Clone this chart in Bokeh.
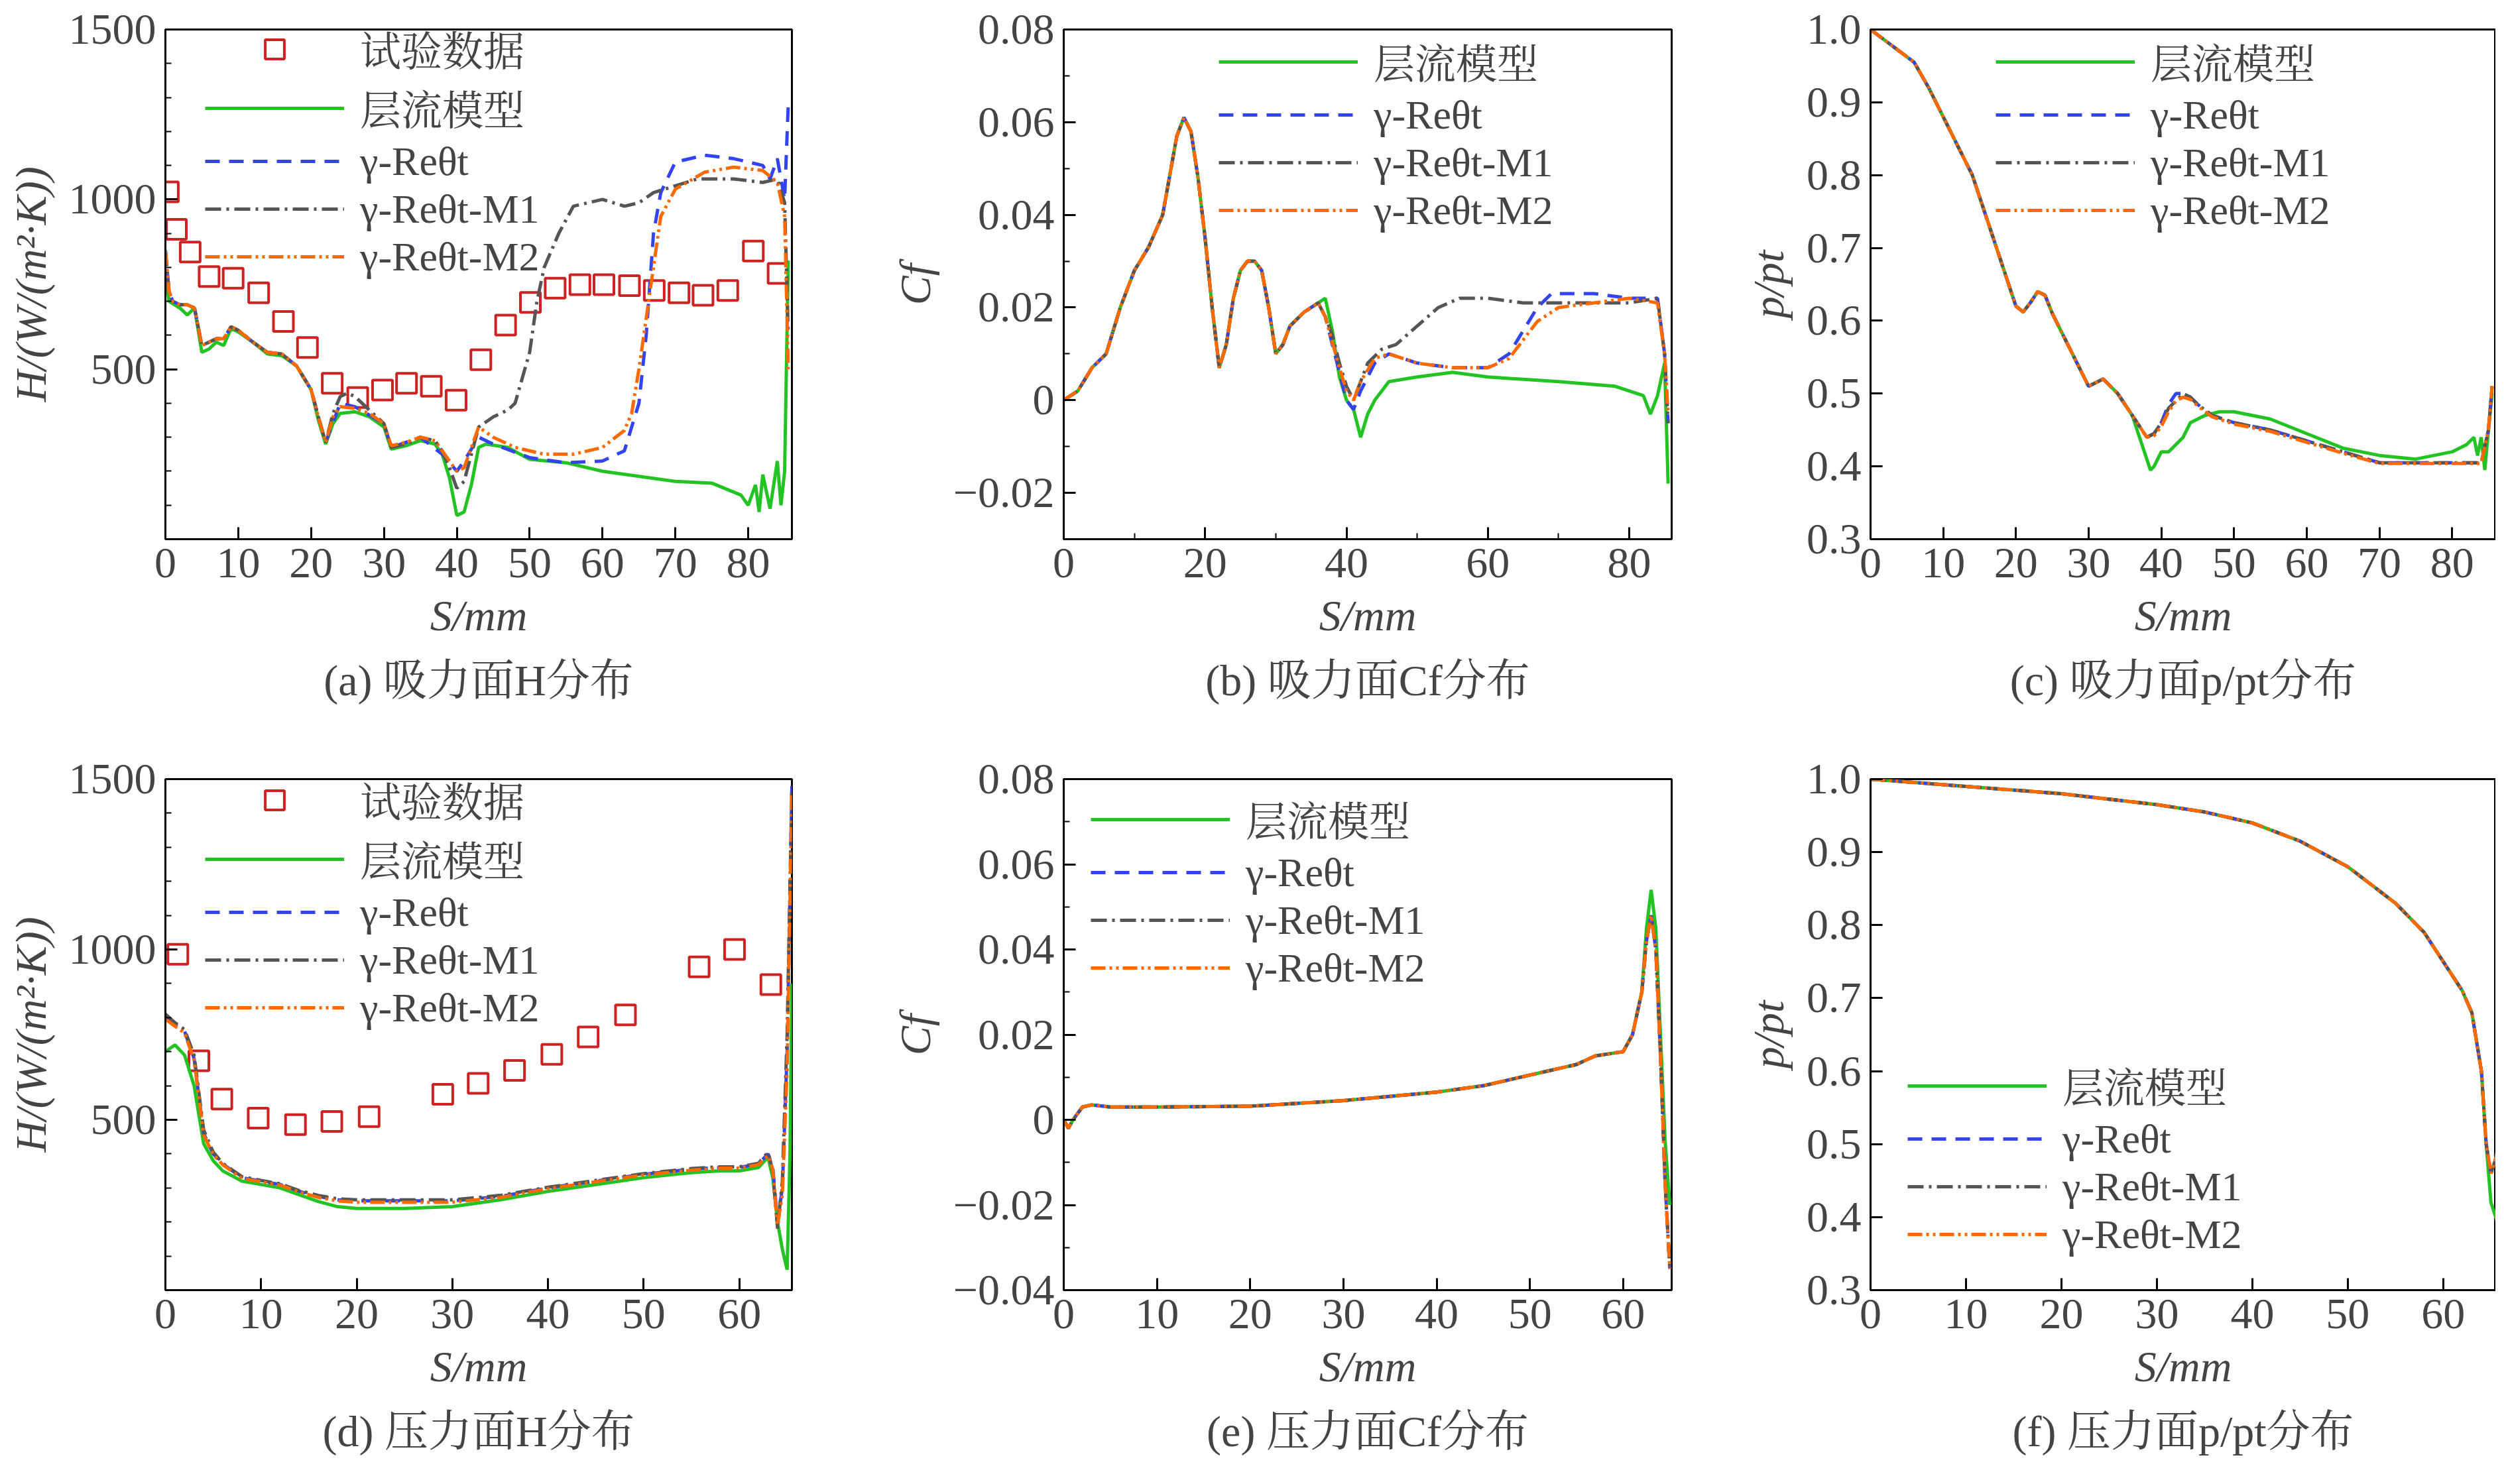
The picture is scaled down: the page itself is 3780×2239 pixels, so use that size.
from bokeh.plotting import figure
from bokeh.layouts import row, column
from bokeh.models import Legend, LegendItem, Title, Range1d, PrintfTickFormatter
from bokeh.embed import file_html
from bokeh.resources import INLINE

# ---------------- data ----------------
# (a) suction H
a_exp_s = [0.4,1.5,3.4,6.0,9.3,12.8,16.2,19.5,22.9,26.4,29.8,33.1,36.5,39.9,43.3,46.7,50.1,53.5,56.9,60.2,63.7,67.1,70.5,73.8,77.2,80.7,84.1]
a_exp_h = [1022,912,845,773,768,725,641,564,459,417,439,459,450,409,528,630,697,739,749,749,746,732,725,718,732,848,782]
a_lam_s = [0,0.5,2,3,4,5,6,7,8,9,10,12,14,16,18,20,21,22,23,24,26,28,30,31,33,35,37,38,39,40,41,42,43,44,47,50,55,60,70,75,79,80,81,81.5,82,83,84,84.5,85,85.5]
a_lam_h = [780,700,680,660,680,550,560,580,570,620,610,580,545,540,510,440,350,280,340,370,375,360,330,265,275,290,280,250,180,70,80,160,270,280,270,235,225,200,170,165,130,100,160,80,190,90,230,100,200,820]
a_base_s = [0,0.5,1,2,3,4,5,6,7,8,9,10,12,14,16,18,20,21,22]
a_base_h = [850,730,700,690,690,680,570,580,590,590,625,615,580,550,545,510,440,360,285]
a_re_s = a_base_s + [24,26,30,31,35,38,40,41,43,45,50,55,60,63,65,66,67,68,70,74,78,82,83,84,85,85.5]
a_re_h = a_base_h + [400,390,340,270,300,250,200,230,300,280,240,225,230,260,400,600,900,1020,1110,1130,1120,1100,1060,1120,1000,1280]
a_m1_s = a_base_s + [23,24,25,26,28,30,31,33,35,37,38,39,40,41,42,43,45,47,48,50,51,52,54,56,60,63,65,67,70,73,78,82,84,85,85.5]
a_m1_h = a_base_h + [370,420,430,420,380,340,270,280,300,290,260,210,150,170,250,330,360,380,400,550,700,800,900,980,1000,980,990,1020,1040,1060,1060,1050,1060,990,600]
a_m2_s = a_base_s + [23,24,26,28,30,31,33,35,37,38,40,41,43,45,48,52,56,60,63,64,65,66,67,68,70,74,78,82,84,85,85.5]
a_m2_h = a_base_h + [360,390,385,370,340,275,285,300,290,260,200,210,330,300,270,250,250,270,320,370,500,650,800,950,1030,1080,1095,1085,1050,950,500]

# (b) suction Cf
b_base_s = [0,2,4,6,8,10,12,14,16,17,18,19,20,21,22,23,24,25,26,27,28,29,30,31,32,34,36,37]
b_base_c = [0,0.002,0.007,0.01,0.02,0.028,0.033,0.04,0.057,0.061,0.058,0.048,0.035,0.02,0.007,0.012,0.022,0.028,0.03,0.03,0.028,0.02,0.01,0.012,0.016,0.019,0.021,0.022]
b_lam_s = b_base_s + [38,39,40,41,42,43,44,46,50,55,60,70,78,82,83,84,85,85.5]
b_lam_c = b_base_c + [0.015,0.005,0.0,-0.002,-0.008,-0.003,0.0,0.004,0.005,0.006,0.005,0.004,0.003,0.001,-0.003,0.001,0.008,-0.018]
b_m1_s = b_base_s[:-1] + [37,38,39,40,41,42,43,45,47,50,53,56,60,65,70,80,84,85,85.5]
b_m1_c = b_base_c[:-1] + [0.018,0.014,0.008,0.003,0.0,0.004,0.008,0.011,0.012,0.016,0.02,0.022,0.022,0.021,0.021,0.021,0.022,0.01,-0.005]
b_re_s = b_base_s[:-1] + [37,39,40,41,42,44,46,50,55,60,63,65,67,69,75,80,84,85,85.5]
b_re_c = b_base_c[:-1] + [0.018,0.006,0.0,-0.002,0.002,0.008,0.01,0.008,0.007,0.007,0.01,0.015,0.02,0.023,0.023,0.022,0.022,0.01,-0.005]
b_m2_s = b_base_s[:-1] + [37,39,40,41,42,44,46,50,55,60,63,65,67,70,75,80,84,85,85.5]
b_m2_c = b_base_c[:-1] + [0.018,0.007,0.002,0.0,0.004,0.009,0.01,0.008,0.007,0.007,0.009,0.013,0.017,0.02,0.021,0.022,0.021,0.01,-0.003]

# (c) suction p/pt
c_base_s = [0,2,4,6,8,10,12,14,16,18,20,21,22,23,24,25,27,29,30,31,32,34,36]
c_base_p = [1.0,0.985,0.97,0.955,0.92,0.88,0.84,0.8,0.74,0.68,0.62,0.612,0.625,0.64,0.635,0.61,0.57,0.53,0.51,0.515,0.52,0.5,0.47]
c_lam_s = c_base_s + [37,38,38.5,39,40,41,42,43,44,46,48,50,55,60,65,70,75,80,82,83,83.5,84,84.5,85,85.5]
c_lam_p = c_base_p + [0.44,0.41,0.395,0.4,0.42,0.42,0.43,0.44,0.46,0.47,0.475,0.475,0.465,0.445,0.425,0.415,0.41,0.42,0.43,0.44,0.415,0.44,0.395,0.45,0.50]
c_tr_s = c_base_s + [37,38,39,40,41,42,43,44,45,47,50,55,60,65,70,75,80,84,85,85.5]
c_re_p = c_base_p + [0.455,0.44,0.445,0.46,0.485,0.5,0.5,0.495,0.485,0.47,0.46,0.45,0.435,0.42,0.405,0.405,0.405,0.405,0.45,0.51]
c_m1_p = c_base_p + [0.455,0.44,0.445,0.46,0.48,0.49,0.5,0.495,0.485,0.47,0.46,0.45,0.435,0.42,0.405,0.405,0.405,0.405,0.45,0.51]
c_m2_p = c_base_p + [0.455,0.44,0.442,0.455,0.475,0.49,0.495,0.492,0.483,0.468,0.458,0.448,0.433,0.418,0.404,0.404,0.404,0.404,0.45,0.51]

# (d) pressure H
d_exp_s = [1.3,3.5,5.9,9.7,13.6,17.4,21.3,29.0,32.7,36.5,40.4,44.2,48.1,55.8,59.5,63.3]
d_exp_h = [986,673,561,505,486,495,509,575,607,645,692,743,808,949,1000,897]
d_lam_s = [0,1,2,3,4,5,6,8,10,12,14,16,18,20,25,30,35,40,45,50,55,58,60,62,63,63.5,64,64.5,65,65.3,65.5]
d_lam_h = [700,720,690,600,430,380,350,320,310,300,280,260,245,240,240,245,265,290,310,330,345,350,350,360,390,330,200,120,60,400,900]
d_tr_s = [0,1,2,3,4,5,6,8,10,12,14,16,18,20,25,30,35,40,45,50,55,58,60,62,63,63.5,64,64.5,65,65.5]
d_re_h = [800,780,760,680,460,400,370,330,320,310,290,275,265,262,262,262,275,300,320,340,355,360,360,370,400,360,200,300,700,1480]
d_m1_h = [810,785,765,690,470,405,372,333,322,312,292,278,268,265,265,265,278,302,322,342,357,362,362,372,405,350,180,320,750,1480]
d_m2_h = [795,775,755,675,455,398,368,328,318,308,288,272,262,258,258,258,272,298,318,338,352,358,358,368,395,355,190,280,650,1460]

# (e) pressure Cf
e_s = [0,0.5,1,2,3,5,10,20,30,40,45,50,55,57,60,61,62,62.5,63,63.5,64,64.5,65]
e_lam_c = [0,-0.002,0,0.003,0.0035,0.003,0.003,0.0032,0.0045,0.0065,0.008,0.0105,0.013,0.015,0.016,0.02,0.03,0.045,0.054,0.045,0.02,-0.005,-0.02]
e_tr_c = [0,-0.002,0,0.003,0.0035,0.003,0.003,0.0032,0.0045,0.0065,0.008,0.0105,0.013,0.015,0.016,0.02,0.03,0.042,0.048,0.04,0.015,-0.015,-0.035]

# (f) pressure p/pt
f_s = [0,10,20,30,35,40,45,50,55,58,60,62,63,64,64.5,65,65.5,66]
f_lam_p = [1.0,0.99,0.98,0.965,0.955,0.94,0.915,0.88,0.83,0.79,0.75,0.71,0.68,0.6,0.5,0.42,0.4,0.38]
f_tr_p = [1.0,0.99,0.98,0.965,0.955,0.94,0.915,0.88,0.83,0.79,0.75,0.71,0.68,0.6,0.5,0.46,0.48,0.51]

labels = ["试验数据", "层流模型", "γ-Reθt", "γ-Reθt-M1", "γ-Reθt-M2"]
captions = ["(a) 吸力面H分布", "(b) 吸力面Cf分布", "(c) 吸力面p/pt分布",
            "(d) 压力面H分布", "(e) 压力面Cf分布", "(f) 压力面p/pt分布"]

# ---------------- styling ----------------
FONT = "Liberation Serif, Noto Serif CJK SC, Noto Sans CJK SC"
FS = "66px"
LFS = "62px"
GREEN, BLUE, GRAY, ORANGE, RED = "#22c322", "#3344ee", "#555555", "#ff6a00", "#cc2222"
LW = 5

def mkfig(w, h, left, right, top, bottom, xr, yr):
    p = figure(width=w, height=h, output_backend="svg", toolbar_location=None,
               x_range=Range1d(*xr), y_range=Range1d(*yr),
               min_border_left=left, min_border_right=right,
               min_border_top=top, min_border_bottom=bottom)
    p.grid.visible = False
    p.outline_line_color = "black"
    p.outline_line_width = 3
    for ax in (p.xaxis[0], p.yaxis[0]):
        ax.axis_line_width = 3
        ax.major_tick_in = 18
        ax.major_tick_out = 0
        ax.minor_tick_in = 9
        ax.minor_tick_out = 0
        ax.major_tick_line_width = 3
        ax.minor_tick_line_width = 2
        ax.major_label_text_font = FONT
        ax.major_label_text_font_size = FS
        ax.axis_label_text_font = FONT
        ax.axis_label_text_font_size = FS
        ax.axis_label_text_font_style = "italic"
        ax.major_label_standoff = 14
        ax.axis_label_standoff = 18
    return p

def caption(p, text):
    t = Title(text=text, align="center", text_font=FONT, text_font_size=FS,
              text_font_style="normal", standoff=40)
    p.add_layout(t, "below")

def add_lines(p, series, with_exp, loc):
    items = []
    if with_exp:
        r = p.scatter(series[0][0], series[0][1], marker="square", size=30,
                      fill_color=None, line_color=RED, line_width=4)
        items.append(LegendItem(label=labels[0], renderers=[r]))
        series = series[1:]
    styles = [(GREEN, "solid"), (BLUE, "22 14"), (GRAY, "24 8 4 8"), (ORANGE, "22 6 4 6 4 6")]
    rs = []
    for (xs, ys), (c, d) in zip(series, styles):
        rs.append(p.line(xs, ys, line_color=c, line_dash=d, line_width=LW))
    for r, l in zip(rs, labels[1:]):
        items.append(LegendItem(label=l, renderers=[r]))
    leg = Legend(items=items, location=loc, background_fill_alpha=0,
                 border_line_color=None, label_text_font=FONT, label_text_font_size=LFS,
                 glyph_width=210, glyph_height=72, label_standoff=24, spacing=0,
                 padding=0, margin=0, label_height=72)
    p.add_layout(leg, "center")

W = [1340, 1260, 1164]
H1, H2 = 1110, 1113

def labels_xy(p, ylab):
    p.xaxis.axis_label = "S/mm"
    p.yaxis.axis_label = ylab

# (a)
pa = mkfig(W[0], H1, 249, 146, 44, 297, (0, 86), (0, 1500))
pa.xaxis.ticker = list(range(0, 90, 10)); pa.yaxis.ticker = [500, 1000, 1500]
pa.yaxis[0].ticker.minor_ticks = list(range(0, 1501, 100))
labels_xy(pa, "H/(W/(m²·K))")
add_lines(pa, [(a_exp_s, a_exp_h), (a_lam_s, a_lam_h), (a_re_s, a_re_h), (a_m1_s, a_m1_h), (a_m2_s, a_m2_h)], True, (60, 390))
caption(pa, captions[0])

# (b)
pb = mkfig(W[1], H1, 233, 79, 44, 297, (0, 86), (-0.03, 0.08))
pb.xaxis.ticker = list(range(0, 90, 20)); pb.yaxis.ticker = [-0.02, 0, 0.02, 0.04, 0.06, 0.08]
pb.xaxis[0].ticker.minor_ticks = list(range(0, 90, 10))
pb.yaxis[0].ticker.minor_ticks = [x / 100 for x in range(-3, 9)]
labels_xy(pb, "Cf")
add_lines(pb, [(b_lam_s, b_lam_c), (b_re_s, b_re_c), (b_m1_s, b_m1_c), (b_m2_s, b_m2_c)], False, (234, 460))
caption(pb, captions[1])

# (c)
pc = mkfig(W[2], H1, 221, 0, 44, 297, (0, 86), (0.3, 1.0))
pc.xaxis.ticker = list(range(0, 90, 10)); pc.yaxis.ticker = [x / 10 for x in range(3, 11)]
pc.yaxis.formatter = PrintfTickFormatter(format="%.1f")
labels_xy(pc, "p/pt")
add_lines(pc, [(c_lam_s, c_lam_p), (c_tr_s, c_re_p), (c_tr_s, c_m1_p), (c_tr_s, c_m2_p)], False, (189, 460))
caption(pc, captions[2])

# (d)
pd_ = mkfig(W[0], H2, 249, 146, 65, 277, (0, 65.5), (0, 1500))
pd_.xaxis.ticker = list(range(0, 70, 10)); pd_.yaxis.ticker = [500, 1000, 1500]
pd_.yaxis[0].ticker.minor_ticks = list(range(0, 1501, 100))
labels_xy(pd_, "H/(W/(m²·K))")
add_lines(pd_, [(d_exp_s, d_exp_h), (d_lam_s, d_lam_h), (d_tr_s, d_re_h), (d_tr_s, d_m1_h), (d_tr_s, d_m2_h)], True, (60, 390))
caption(pd_, captions[3])

# (e)
pe = mkfig(W[1], H2, 233, 79, 65, 277, (0, 65.2), (-0.04, 0.08))
pe.xaxis.ticker = list(range(0, 70, 10)); pe.yaxis.ticker = [-0.04, -0.02, 0, 0.02, 0.04, 0.06, 0.08]
pe.yaxis[0].ticker.minor_ticks = [x / 100 for x in range(-4, 9)]
labels_xy(pe, "Cf")
add_lines(pe, [(e_s, e_lam_c), (e_s, e_tr_c), (e_s, e_tr_c), (e_s, e_tr_c)], False, (41, 450))
caption(pe, captions[4])

# (f)
pf = mkfig(W[2], H2, 221, 0, 65, 277, (0, 65.5), (0.3, 1.0))
pf.xaxis.ticker = list(range(0, 70, 10)); pf.yaxis.ticker = [x / 10 for x in range(3, 11)]
pf.yaxis.formatter = PrintfTickFormatter(format="%.1f")
labels_xy(pf, "p/pt")
add_lines(pf, [(f_s, f_lam_p), (f_s, f_tr_p), (f_s, f_tr_p), (f_s, f_tr_p)], False, (56, 48))
caption(pf, captions[5])

layout = column(row(pa, pb, pc), row(pd_, pe, pf))
open("out.html", "w").write(file_html(layout, INLINE))
